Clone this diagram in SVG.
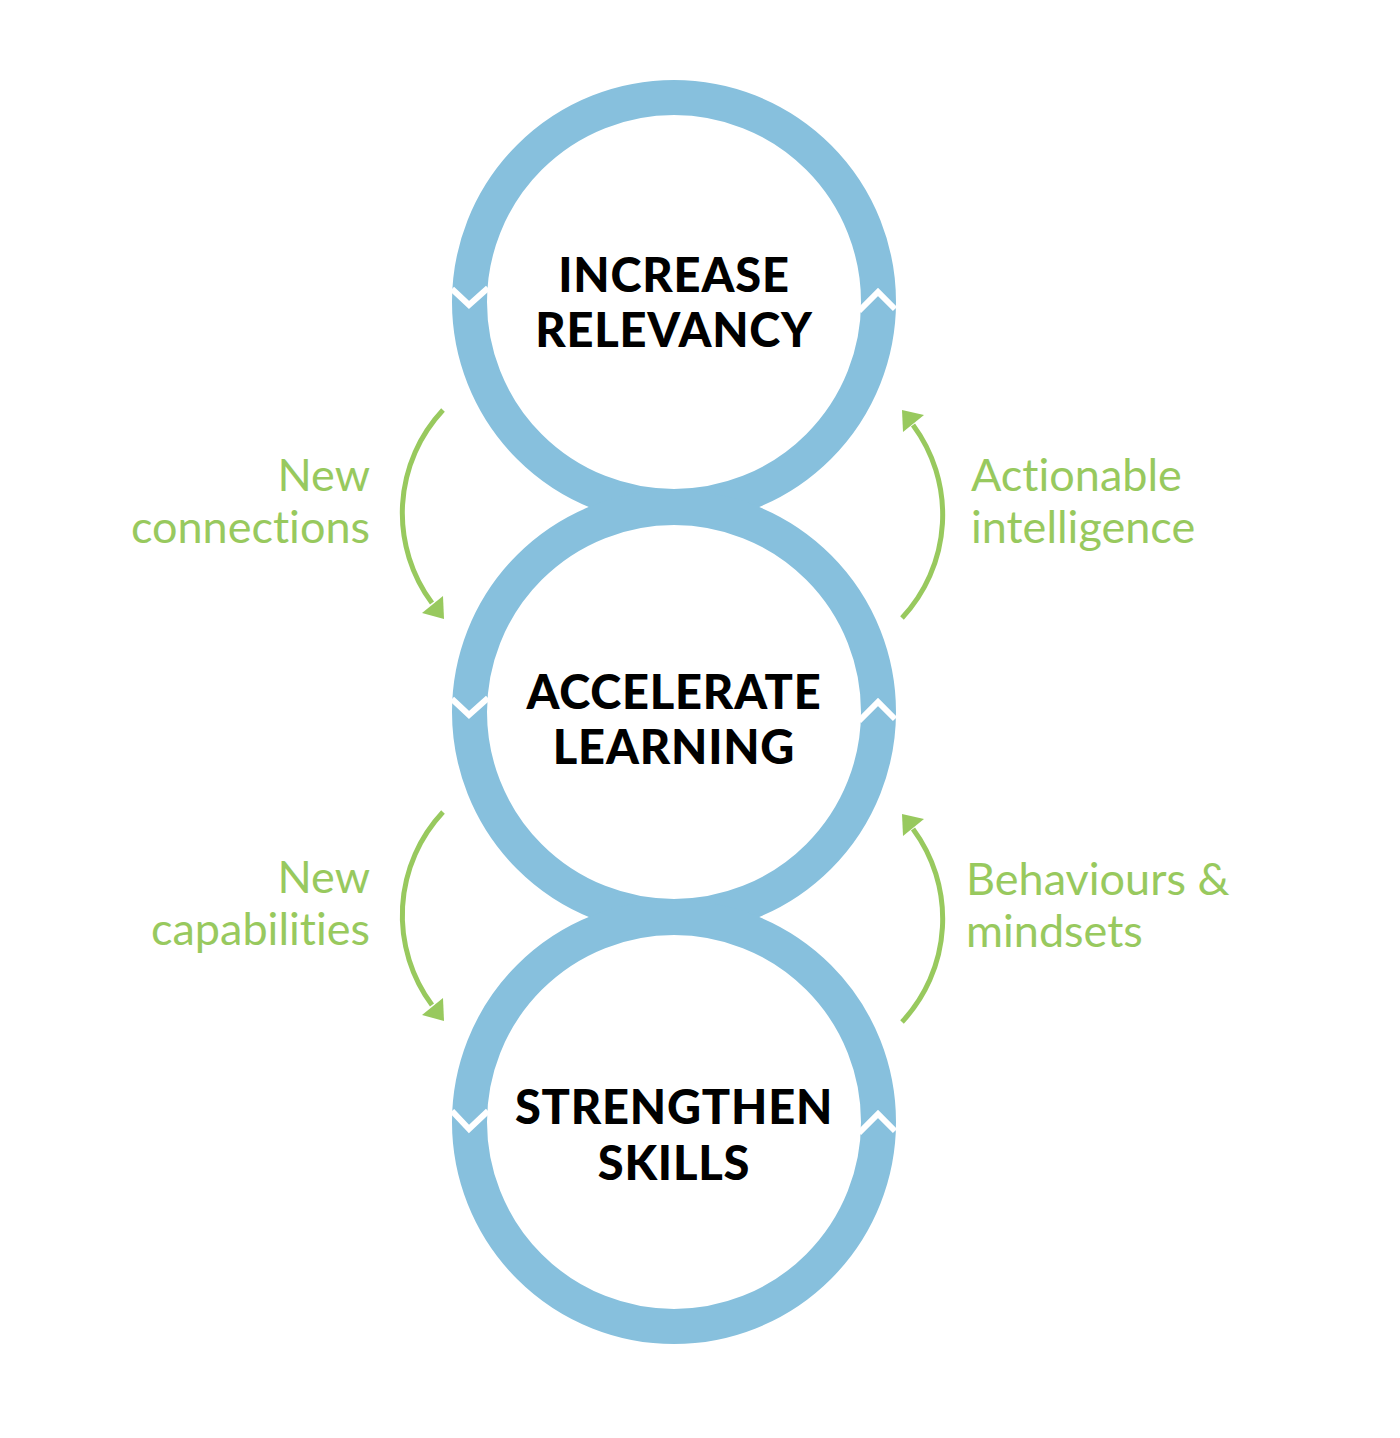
<svg xmlns="http://www.w3.org/2000/svg" width="1400" height="1438" viewBox="0 0 1400 1438">
<style>
.ring{fill:none;stroke:#87C0DD;stroke-width:35}
.notch{fill:none;stroke:#FFFFFF;stroke-width:6;stroke-linejoin:miter}
.title{font-family:Lato,"Liberation Sans",sans-serif;font-weight:900;font-size:47px;letter-spacing:0.8px;fill:#000000;text-anchor:middle}
.lbl{font-family:Lato,"Liberation Sans",sans-serif;font-weight:400;font-size:45px;fill:#98C95E;font-variant-ligatures:none}
.arr{fill:none;stroke:#98C95E;stroke-width:5}
.head{fill:#98C95E}
</style>
<rect width="1400" height="1438" fill="#FFFFFF"/>
<g id="node-increase-relevancy">
<circle class="ring" cx="674" cy="302" r="204.5"/>
<polyline class="notch" points="452,289 469,305 488,288"/>
<polyline class="notch" points="859,311 878,292 895,309"/>
<text class="title" x="674" y="292">INCREASE</text>
<text class="title" x="674" y="347">RELEVANCY</text>
</g>
<g id="node-accelerate-learning">
<circle class="ring" cx="674" cy="712" r="204.5"/>
<polyline class="notch" points="452,699 469,715 488,698"/>
<polyline class="notch" points="859,721 878,702 895,719"/>
<text class="title" x="674" y="709">ACCELERATE</text>
<text class="title" x="674" y="764">LEARNING</text>
</g>
<g id="node-strengthen-skills">
<circle class="ring" cx="674" cy="1122" r="204.5"/>
<polyline class="notch" points="452,1111 469,1129 488,1111"/>
<polyline class="notch" points="859,1133 878,1114 895,1131"/>
<text class="title" x="674" y="1124">STRENGTHEN</text>
<text class="title" x="674" y="1180">SKILLS</text>
</g>
<g id="connectors">
<path class="arr" d="M443,410 A151,151 0 0 0 432,603"/>
<polygon class="head" points="444,619 422,613 443,596"/>
<text class="lbl" x="370" y="491" text-anchor="end">New</text>
<text class="lbl" x="370" y="543" text-anchor="end">connections</text>
<path class="arr" d="M902,618 A151,151 0 0 0 913,425"/>
<polygon class="head" points="902,410 924,415 903,432"/>
<text class="lbl" x="971" y="491">Actionable</text>
<text class="lbl" x="971" y="543">intelligence</text>
<path class="arr" d="M443,812 A151,151 0 0 0 432,1005"/>
<polygon class="head" points="444,1021 422,1015 443,998"/>
<text class="lbl" x="370" y="893" text-anchor="end">New</text>
<text class="lbl" x="370" y="945" text-anchor="end">capabilities</text>
<path class="arr" d="M902,1022 A151,151 0 0 0 913,829"/>
<polygon class="head" points="902,814 924,819 903,836"/>
<text class="lbl" x="966" y="895">Behaviours &amp;</text>
<text class="lbl" x="966" y="947">mindsets</text>
</g>
</svg>
